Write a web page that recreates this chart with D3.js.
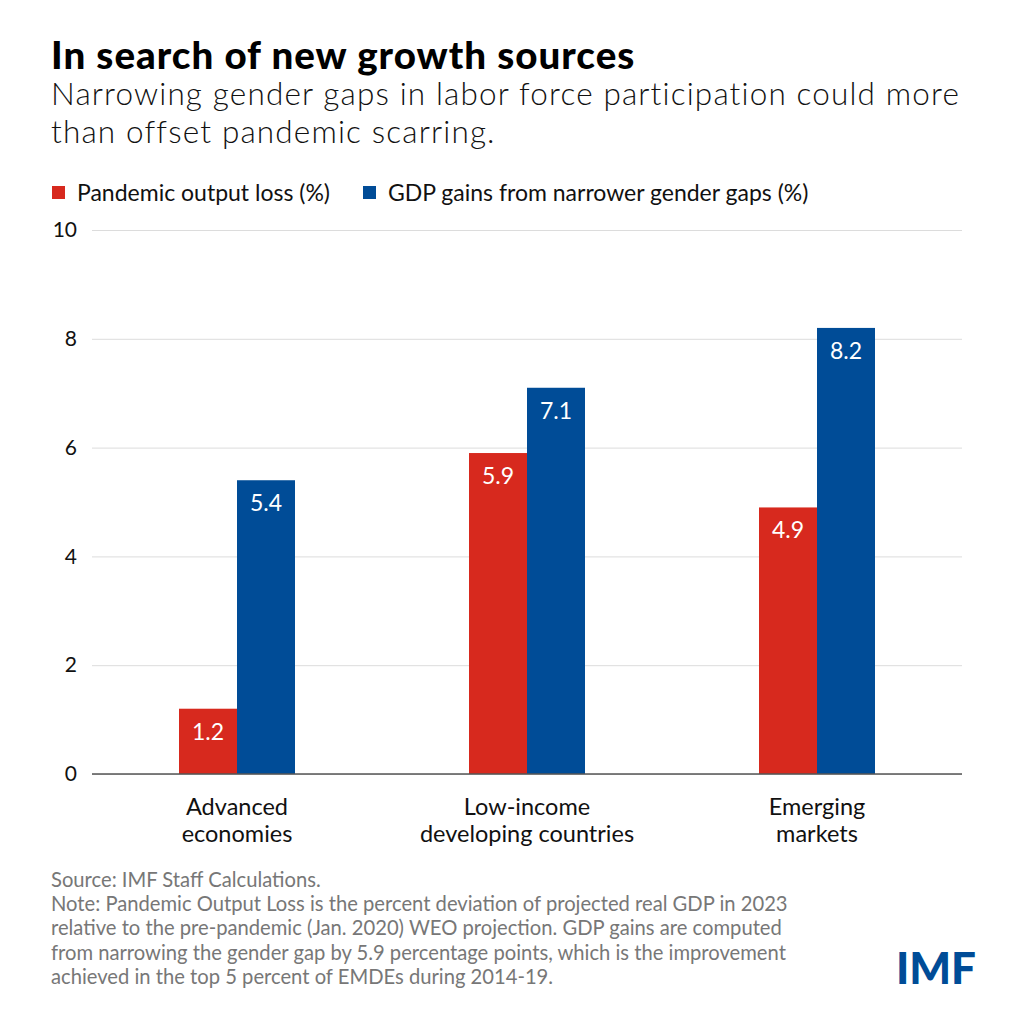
<!DOCTYPE html>
<html><head><meta charset="utf-8">
<script src="https://cdn.jsdelivr.net/npm/d3@7"></script>
<style>body{margin:0;background:#fff;}svg{display:block;}</style>
</head><body>
<svg id="chart" width="1024" height="1024"></svg>
<script>
const categories = [["Advanced","economies"],["Low-income","developing countries"],["Emerging","markets"]];
const categoryKeys = ["Advanced economies","Low-income developing countries","Emerging markets"];
const seriesNames = ["Pandemic output loss (%)","GDP gains from narrower gender gaps (%)"];
const pandemicLoss = [1.2, 5.9, 4.9];
const gdpGains = [5.4, 7.1, 8.2];
const yTicks = [0, 2, 4, 6, 8, 10];
const colors = ["#d7291e", "#004c97"];
const titleText = "In search of new growth sources";
const subtitleLines = ["Narrowing gender gaps in labor force participation could more","than offset pandemic scarring."];
const noteLines = ["Source: IMF Staff Calculations.",
"Note: Pandemic Output Loss is the percent deviation of projected real GDP in 2023",
"relative to the pre-pandemic (Jan. 2020) WEO projection. GDP gains are computed",
"from narrowing the gender gap by 5.9 percentage points, which is the improvement",
"achieved in the top 5 percent of EMDEs during 2014-19."];

const font = "Lato, 'Noto Sans', sans-serif";
const svg = d3.select("#chart").style("font-family", font);

svg.append("text").attr("x", 51).attr("y", 69).attr("font-size", 38.5).attr("font-weight", 900)
  .attr("letter-spacing", 1.0).attr("fill", "#000").text(titleText);
svg.selectAll("text.sub").data(subtitleLines).join("text").attr("class","sub")
  .attr("x", 51).attr("y", (d,i)=>105 + i*38).attr("font-size", 31.5).attr("font-weight", 300)
  .attr("letter-spacing", 1.15).attr("fill", "#111").text(d=>d);

// legend
const legendX = [52, 363];
seriesNames.forEach((n,i)=>{
  svg.append("rect").attr("x", legendX[i]).attr("y", 186).attr("width", 13).attr("height", 13).attr("fill", colors[i]);
  svg.append("text").attr("x", legendX[i]+25).attr("y", 201).attr("font-size", 23).attr("font-weight", 400)
    .attr("fill", "#111").text(n);
});

const x0 = d3.scaleBand().domain(categoryKeys).range([92, 962]).paddingInner(0).paddingOuter(0);
const x1 = d3.scaleBand().domain([0,1]).range([0, x0.bandwidth()]).paddingInner(0).paddingOuter(1.5);
const y = d3.scaleLinear().domain([0, 10]).range([774, 230]);

const yAxis = svg.append("g").attr("transform", "translate(92,0)")
  .call(d3.axisLeft(y).tickValues(yTicks).tickSize(-870).tickPadding(15).tickFormat(d3.format("d")));
yAxis.select(".domain").remove();
yAxis.selectAll(".tick line").attr("stroke", "#dcdcdc").attr("stroke-width", 1);
yAxis.selectAll(".tick text").attr("font-size", 21).attr("fill", "#111").attr("font-family", font);

const data = categoryKeys.map((k,i)=>({key:k, vals:[pandemicLoss[i], gdpGains[i]]}));
const g = svg.selectAll("g.grp").data(data).join("g").attr("class","grp")
  .attr("transform", d=>`translate(${x0(d.key)},0)`);
g.selectAll("rect").data(d=>d.vals.map((v,j)=>({v,j}))).join("rect")
  .attr("x", d=>x1(d.j)).attr("width", x1.bandwidth())
  .attr("y", d=>y(d.v)).attr("height", d=>y(0)-y(d.v)).attr("fill", d=>colors[d.j]);
g.selectAll("text.val").data(d=>d.vals.map((v,j)=>({v,j}))).join("text").attr("class","val")
  .attr("x", d=>x1(d.j)+x1.bandwidth()/2).attr("y", d=>y(d.v)+31)
  .attr("text-anchor","middle").attr("font-size", 23).attr("fill","#fff").text(d=>d3.format(".1f")(d.v));

// baseline
svg.append("line").attr("x1", 92).attr("x2", 962).attr("y1", y(0)).attr("y2", y(0))
  .attr("stroke", "#555").attr("stroke-width", 1.5);

// x labels
categoryKeys.forEach((k,i)=>{
  categories[i].forEach((line,j)=>{
    svg.append("text").attr("x", x0(k)+x0.bandwidth()/2).attr("y", 815 + j*27)
      .attr("text-anchor","middle").attr("font-size", 23.5).attr("fill","#111").text(line);
  });
});

svg.selectAll("text.note").data(noteLines).join("text").attr("class","note")
  .attr("x", 51).attr("y", (d,i)=>887 + i*24.2).attr("font-size", 20.2).attr("font-weight", 400)
  .attr("fill", "#777").text(d=>d);

svg.append("text").attr("x", 976).attr("y", 984).attr("text-anchor","end").attr("font-size", 44)
  .attr("font-weight", 900).attr("fill", "#004c97").attr("font-family", font).text("IMF");
</script>
</body></html>
